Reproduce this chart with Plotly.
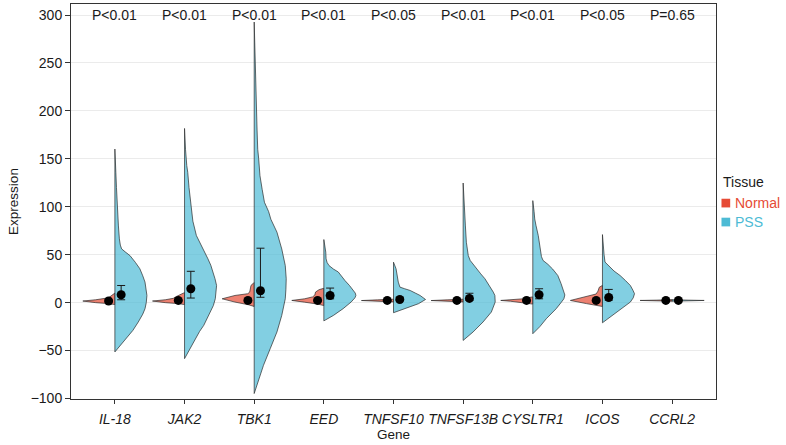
import plotly.graph_objects as go

# genes on the x axis and the p value printed above each pair
GENES = ["IL-18", "JAK2", "TBK1", "EED", "TNFSF10", "TNFSF13B", "CYSLTR1", "ICOS", "CCRL2"]
P_LABELS = ["P<0.01", "P<0.01", "P<0.01", "P<0.01", "P<0.05", "P<0.01", "P<0.01", "P<0.05", "P=0.65"]

# half-violin outlines: expression levels (bottom -> top)
# and the relative density (1 = widest) at each level
NORMAL_Y = [
    [-2, -1, 0, 1.7, 3, 5, 7, 9, 10],
    [-2, -1, 0, 1.7, 3, 4.5, 6.5, 8.5, 10, 10.5],
    [-4, -2.2, 0.6, 4, 7.5, 9.3, 11, 15, 18, 20, 21],
    [-3, -1.5, 0.5, 2.3, 4, 6, 8, 11, 13.5, 15],
    [0.8, 1.5, 2.2, 2.9, 3.6],
    [0.8, 1.5, 2.2, 2.9, 3.6],
    [-1.5, 0, 1.5, 2.3, 3, 4, 5, 6],
    [-4, -2.5, -1, 2.3, 5, 7, 9, 12, 16, 18],
    [1.5, 2, 2.3, 2.6, 3.1],
]
NORMAL_DENS = [
    [0, 0.2, 0.6, 1.0, 0.6, 0.2, 0.12, 0.05, 0],
    [0, 0.2, 0.6, 1.0, 0.6, 0.35, 0.25, 0.15, 0.03, 0],
    [0, 0.18, 0.6, 1.0, 0.6, 0.2, 0.14, 0.13, 0.1, 0.03, 0],
    [0, 0.2, 0.6, 1.0, 0.6, 0.35, 0.28, 0.26, 0.15, 0],
    [0, 0.5, 1.0, 0.5, 0],
    [0, 0.5, 1.0, 0.5, 0],
    [0, 0.3, 0.7, 1.0, 0.6, 0.3, 0.18, 0],
    [0, 0.2, 0.5, 1.0, 0.7, 0.5, 0.2, 0.14, 0.1, 0],
    [0, 0.5, 1.0, 0.5, 0],
]
PSS_Y = [
    [-51.4, -44, -37.6, -29, -20.2, -12, -6.3, 0, 7.5, 14, 21.4, 28, 35.3, 42, 49.1,
     53, 56.1, 60, 66.5, 80, 101, 120, 136, 150, 160.2],
    [-58.4, -48, -37.6, -30, -23.7, -16, -9.8, -3, 4.1, 11, 17.9, 25, 31.8, 39, 45.7,
     52, 59.5, 65, 70, 85, 101, 120, 136, 143, 160, 181.7],
    [-94.8, -82.6, -65.4, -48, -30.6, -13.3, 4, 14, 24.9, 38.7, 56, 73.5, 87, 95,
     104.7, 118, 132.4, 150, 160, 180, 201.8, 222.6, 250, 275, 292.7],
    [-19, -13.3, -6.3, 0.6, 5, 7.5, 10, 14, 17.9, 23, 28.3, 32, 35, 38.7, 42, 45.7,
     52.7, 58, 65.8],
    [-10.5, -6.3, -1.1, 3.3, 7.5, 10, 12.7, 14.5, 16.2, 21.4, 28, 35.3, 42.2],
    [-39.4, -30.6, -20.2, -9.8, 0.6, 7.5, 11, 18, 24.9, 30, 35.3, 40, 44, 49.1, 63,
     80, 97.7, 110, 124.8],
    [-32.4, -25, -16.8, -6.3, 0, 4, 8, 14.5, 20, 28.3, 35, 40, 44, 48, 55, 63, 70,
     80.4, 87.3, 95, 106.4],
    [-21, -15, -8.1, 0.6, 5, 9.3, 13, 17.9, 23, 28.3, 33, 37, 40, 42.3, 50, 59.5, 71],
    [1.5, 2, 2.3, 2.6, 3.1],
]
PSS_DENS = [
    [0, 0.18, 0.36, 0.56, 0.73, 0.87, 0.94, 0.98, 1.0, 0.98, 0.94, 0.87, 0.78, 0.64,
     0.47, 0.32, 0.21, 0.17, 0.14, 0.11, 0.07, 0.05, 0.03, 0.015, 0],
    [0, 0.17, 0.33, 0.47, 0.6, 0.71, 0.8, 0.9, 0.96, 0.99, 1.0, 0.95, 0.89, 0.82,
     0.73, 0.63, 0.52, 0.43, 0.37, 0.26, 0.2, 0.14, 0.1, 0.07, 0.03, 0],
    [0, 0.12, 0.29, 0.5, 0.71, 0.86, 0.97, 0.99, 1.0, 0.97, 0.86, 0.71, 0.52, 0.45,
     0.32, 0.25, 0.18, 0.14, 0.11, 0.09, 0.07, 0.05, 0.035, 0.015, 0],
    [0, 0.3, 0.6, 0.85, 0.97, 1.0, 0.98, 0.9, 0.8, 0.66, 0.55, 0.45, 0.3, 0.16, 0.1,
     0.07, 0.06, 0.04, 0],
    [0, 0.36, 0.78, 1.0, 0.83, 0.68, 0.52, 0.35, 0.2, 0.15, 0.11, 0.08, 0],
    [0, 0.31, 0.62, 0.88, 1.0, 0.99, 0.94, 0.82, 0.68, 0.55, 0.42, 0.3, 0.22, 0.16,
     0.1, 0.07, 0.05, 0.03, 0],
    [0, 0.22, 0.42, 0.73, 0.88, 0.97, 1.0, 0.94, 0.88, 0.78, 0.62, 0.47, 0.32, 0.27,
     0.24, 0.2, 0.17, 0.1, 0.06, 0.04, 0],
    [0, 0.24, 0.5, 0.87, 0.96, 1.0, 0.95, 0.87, 0.72, 0.55, 0.36, 0.24, 0.13, 0.08,
     0.05, 0.03, 0],
    [0, 0.5, 1.0, 0.5, 0],
]

# group means with their error bar ends
NORMAL_MEAN = [1.7, 2.3, 2.3, 2.3, 2.3, 2.3, 2.3, 2.3, 2.3]
NORMAL_LO = [1.0, 1.6, 1.5, 1.5, 2.0, 2.0, 1.8, 1.4, 2.2]
NORMAL_HI = [2.8, 3.2, 4.0, 3.5, 2.6, 2.6, 2.9, 3.6, 2.4]
PSS_MEAN = [8.2, 14.5, 12.4, 7.5, 3.3, 4.4, 8.2, 5.4, 2.3]
PSS_LO = [3.0, 4.8, 5.6, 4.0, 2.2, 2.4, 4.0, 2.5, 2.1]
PSS_HI = [17.9, 32.7, 56.8, 15.2, 5.5, 9.8, 14.5, 13.8, 2.5]

Y_TICKS = [-100, -50, 0, 50, 100, 150, 200, 250, 300]

NORMAL_COLOR = "#E64B35"
PSS_COLOR = "#4DBBD5"
NORMAL_FILL = "rgba(230,75,53,0.7)"
PSS_FILL = "rgba(77,187,213,0.7)"
TEXT_COLOR = "#1a1a1a"
FONT = "Liberation Sans, Arial, Helvetica, sans-serif"
HALF_WIDTH = 0.46
DOT_SHIFT = 0.09

fig = go.Figure()


def add_half_violin(pos, ys, dens, sign, fill):
    xs = [pos + sign * HALF_WIDTH * d for d in dens]
    fig.add_trace(go.Scatter(
        x=xs + [xs[0]], y=ys + [ys[0]],
        mode="lines", fill="toself", fillcolor=fill,
        line=dict(color="#2b2b2b", width=0.7),
        hoverinfo="skip", showlegend=False))


positions = list(range(1, len(GENES) + 1))
for i, pos in enumerate(positions):
    add_half_violin(pos, NORMAL_Y[i], NORMAL_DENS[i], -1, NORMAL_FILL)
    add_half_violin(pos, PSS_Y[i], PSS_DENS[i], 1, PSS_FILL)

for shift, mean, lo, hi in [(-DOT_SHIFT, NORMAL_MEAN, NORMAL_LO, NORMAL_HI),
                            (DOT_SHIFT, PSS_MEAN, PSS_LO, PSS_HI)]:
    fig.add_trace(go.Scatter(
        x=[p + shift for p in positions], y=mean, mode="markers",
        marker=dict(color="black", size=9),
        error_y=dict(type="data", symmetric=False,
                     array=[h - m for h, m in zip(hi, mean)],
                     arrayminus=[m - l for m, l in zip(mean, lo)],
                     color=TEXT_COLOR, thickness=1, width=4),
        hoverinfo="skip", showlegend=False))

for pos, lab in zip(positions, P_LABELS):
    fig.add_annotation(x=pos, y=300, text=lab, showarrow=False,
                       font=dict(size=14, color=TEXT_COLOR))

# legend drawn by hand to get the ggplot look
fig.add_annotation(xref="paper", yref="paper", x=1.008, y=0.549, xanchor="left",
                   yanchor="middle", text="Tissue", showarrow=False,
                   font=dict(size=14, color=TEXT_COLOR))
for row, (name, col) in enumerate([("Normal", NORMAL_COLOR), ("PSS", PSS_COLOR)]):
    yc = 0.496 - row * 0.048
    fig.add_shape(type="rect", xref="paper", yref="paper",
                  x0=1.0085, x1=1.022, y0=yc - 0.011, y1=yc + 0.011,
                  fillcolor=col, line_width=0)
    fig.add_annotation(xref="paper", yref="paper", x=1.027, y=yc, xanchor="left",
                       yanchor="middle", text=name, showarrow=False,
                       font=dict(size=14, color=col))

fig.update_layout(
    width=786, height=445,
    margin=dict(l=71, r=70, t=4, b=46),
    plot_bgcolor="white", paper_bgcolor="white",
    font=dict(family=FONT, size=13, color=TEXT_COLOR),
    showlegend=False,
)
fig.update_xaxes(
    range=[0.37, 9.63], tickvals=positions,
    ticktext=["<i>%s</i>" % g for g in GENES], tickangle=0,
    tickfont=dict(size=14, color=TEXT_COLOR),
    ticks="outside", ticklen=4, tickcolor="#333333", ticklabelstandoff=3,
    showgrid=False, zeroline=False,
    showline=True, linecolor="#333333", linewidth=1, mirror=True,
    title=dict(text="Gene", font=dict(size=13.5, color=TEXT_COLOR), standoff=0),
)
fig.update_yaxes(
    range=[-100.5, 311.5], tickvals=Y_TICKS,
    ticktext=[("\u2212%d" % -v) if v < 0 else str(v) for v in Y_TICKS],
    tickfont=dict(size=14, color=TEXT_COLOR),
    ticks="outside", ticklen=5, tickcolor="#333333",
    showgrid=True, gridcolor="#EBEBEB", gridwidth=1, zeroline=False,
    showline=True, linecolor="#333333", linewidth=1, mirror=True,
    title=dict(text="Expression", font=dict(size=13.5, color=TEXT_COLOR), standoff=8),
)

# drop the default page margin so the figure sits at the window's top-left
fig.write_html("out.html", config={"displayModeBar": False},
               post_script="document.body.style.margin='0';")
